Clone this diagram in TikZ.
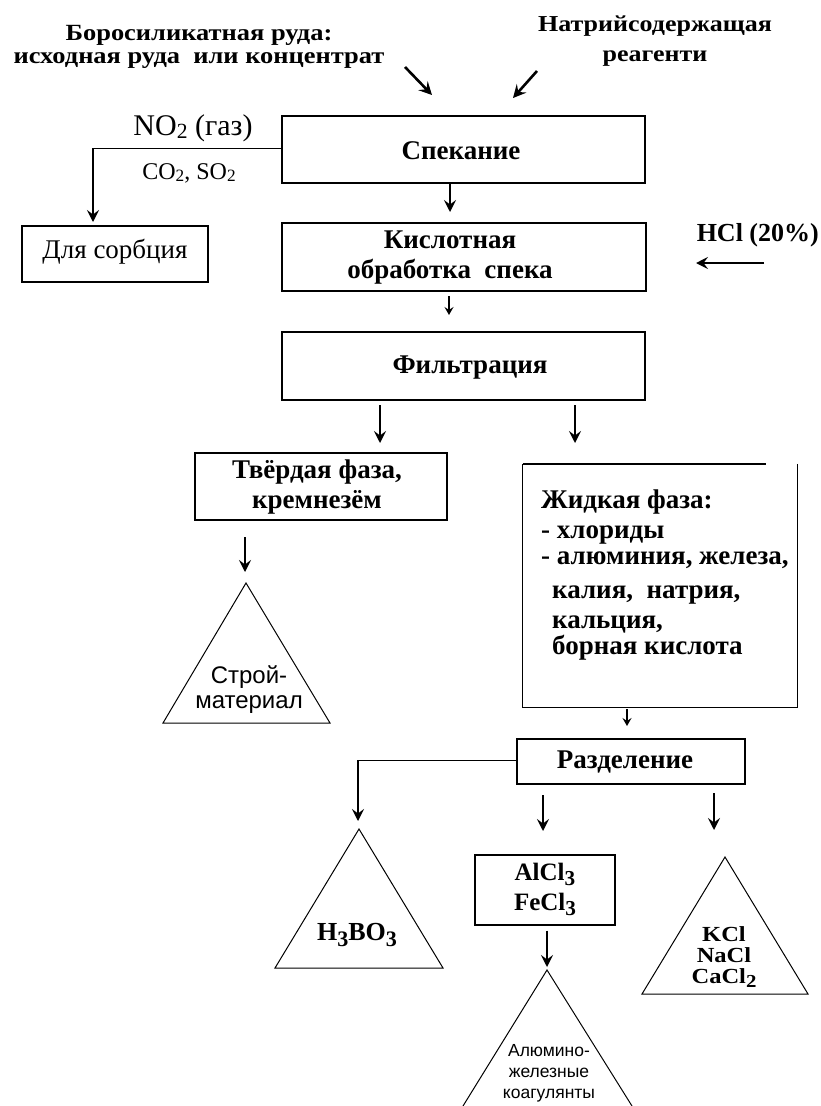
\documentclass[tikz,border=0pt]{standalone}
\usepackage{fontspec}
\usepackage{graphicx}
\setmainfont{Liberation Serif}
\newfontfamily\widef{Liberation Serif}[FakeStretch=1.14]
\newfontfamily\sansf{Liberation Sans}
\usetikzlibrary{arrows.meta}
\newcommand\lsub[1]{\raisebox{-0.2em}{\scalebox{0.85}{#1}}}
\newcommand\ssub[1]{\raisebox{-0.12em}{\scalebox{0.72}{#1}}}
\begin{document}
\begin{tikzpicture}[x=1pt,y=-1pt,
  box/.style={draw, line width=1.3pt, rectangle, inner sep=0pt},
  lbl/.style={font=\bfseries\fontsize{27}{30}\selectfont, align=center, inner sep=0pt},
  reg/.style={font=\fontsize{27}{30}\selectfont, align=center, inner sep=0pt},
  sans/.style={font=\sansf\fontsize{24}{25}\selectfont, align=center, inner sep=0pt},
  arr/.style={line width=1.8pt, -{Stealth[length=12pt,width=12pt,inset=4.5pt]}},
  darr/.style={line width=2.6pt, -{Stealth[length=13pt,width=13pt,inset=5pt]}},
  sarr/.style={line width=1.4pt, -{Stealth[length=8pt,width=9pt,inset=3pt]}},
  conn/.style={line width=1pt},
  tri/.style={draw, line width=1pt, line join=miter}
]
\useasboundingbox[fill=white] (0,0) rectangle (821,1106);

% titles
\node[lbl, font=\widef\bfseries\fontsize{23.2}{22.5}\selectfont] (t1) at (199,47) {Боросиликатная руда:\\исходная руда\ \ или концентрат};
\node[lbl, font=\widef\bfseries\fontsize{22.8}{30}\selectfont] (t2) at (655,41) {Натрийсодержащая\\реагенти};
\coordinate (a1s) at (405,67); \coordinate (a1e) at (432,95);
\coordinate (a2s) at (537,71); \coordinate (a2e) at (513,98);
\draw[darr] (a1s) -- (a1e);
\draw[darr] (a2s) -- (a2e);

% boxes
\node[box, minimum width=363, minimum height=67] (sp) at (463.5,149.5) {};
\node[lbl] at (461,151) {Спекание};
\node[box, minimum width=364, minimum height=68] (kis) at (464,257) {};
\node[lbl, font=\bfseries\fontsize{27}{30}\selectfont] at (450,258) {Кислотная\\обработка\ \ спека};
\node[box, minimum width=363, minimum height=68] (fil) at (463.5,366) {};
\node[lbl] at (470,368) {Фильтрация};
\node[box, minimum width=186, minimum height=56] (sorb) at (115,254) {};
\node[reg] at (115,252) {Для сорбция};

% gases
\node[reg, font=\fontsize{30}{30}\selectfont] (no2) at (193,128) {NO\ssub{2} (газ)};
\node[reg, font=\fontsize{24}{26}\selectfont] (co2) at (189,173) {CO\ssub{2}, SO\ssub{2}};
\coordinate (gasc) at (93,148);
\coordinate (gase) at (93,222);
\draw[conn] (sp.west |- gasc) -- (gasc);
\draw[arr] (gasc) -- (gase);

\coordinate (spa) at (450,212);
\draw[arr] (sp.south -| spa) -- (spa);

% HCl
\node[lbl, font=\bfseries\fontsize{26}{28}\selectfont, anchor=east] (hcl) at (819,235) {HCl (20\%)};
\coordinate (hs) at (764,263); \coordinate (he) at (696,263);
\draw[arr] (hs) -- (he);

\coordinate (k1) at (449,296); \coordinate (k2) at (449,315);
\draw[sarr] (k1) -- (k2);

% filtration outputs
\coordinate (f1s) at (380,405); \coordinate (f1e) at (380,443);
\coordinate (f2s) at (575,405); \coordinate (f2e) at (575,443);
\draw[arr] (f1s) -- (f1e);
\draw[arr] (f2s) -- (f2e);

\node[box, minimum width=252, minimum height=67] (tv) at (321,486.5) {};
\node[lbl, font=\bfseries\fontsize{27}{30}\selectfont] at (317,487) {Твёрдая фаза,\\кремнезём};

% liquid phase box
\node[minimum width=274, minimum height=243, inner sep=0pt] (zh) at (660,585.5) {};
\draw[line width=1.3pt] (zh.north east) -- (zh.south east) -- (zh.south west) -- (zh.north west);
\draw[line width=2.6pt] (zh.north west) -- ++(243,0) coordinate (zhtop);
\node[lbl, font=\bfseries\fontsize{27}{26}\selectfont, align=left, anchor=north west] (zht) at (541,490)
 {Жидкая фаза:\\[4pt]- хлориды\\- алюминия, железа,\\[8pt]\hspace*{11pt}калия,\ \ натрия,\\[4pt]\hspace*{11pt}кальция,\\\hspace*{11pt}борная кислота};

% solid -> triangle
\coordinate (s1) at (245,537); \coordinate (s2) at (245,572);
\draw[arr] (s1) -- (s2);
\coordinate (tr1a) at (246,583);
\draw[tri] (tr1a) -- (330,723) -- (163,723) -- cycle;
\node[sans] (tr1t) at (249,690) {Строй-\\материал};

\coordinate (z1) at (627,709); \coordinate (z2) at (627,726);
\draw[sarr] (z1) -- (z2);

% separation
\node[box, minimum width=228, minimum height=45] (raz) at (631,761.5) {};
\node[lbl] at (625,762) {Разделение};
\coordinate (rc) at (358,760);
\coordinate (re) at (358,821);
\draw[conn] (raz.west |- rc) -- (rc);
\draw[arr] (rc) -- (re);
\coordinate (r2s) at (543,795); \coordinate (r2e) at (543,831);
\coordinate (r3s) at (714,793); \coordinate (r3e) at (714,830);
\draw[arr] (r2s) -- (r2e);
\draw[arr] (r3s) -- (r3e);

% H3BO3 triangle
\coordinate (tr2a) at (359,829);
\draw[tri] (tr2a) -- (443,968) -- (275,968) -- cycle;
\node[lbl, font=\bfseries\fontsize{26}{28}\selectfont] (tr2t) at (357,935) {H\lsub{3}BO\lsub{3}};

% AlCl3 box
\node[box, minimum width=140, minimum height=70] (al) at (545,890) {};
\node[lbl, font=\bfseries\fontsize{25}{30}\selectfont] at (545,889) {AlCl\lsub{3}\\FeCl\lsub{3}};
\coordinate (a3e) at (547,967);
\draw[arr] (al.south -| a3e) ++(0,5) -- (a3e);

% coagulant triangle
\coordinate (tr3a) at (547,970);
\draw[tri] (463,1106) -- (tr3a) -- (632,1106);
\node[sans, font=\sansf\fontsize{17.5}{21}\selectfont] (tr3t) at (549,1073) {Алюмино-\\железные\\коагулянты};

% KCl triangle
\coordinate (tr4a) at (725,857);
\draw[tri] (tr4a) -- (808,994) -- (642,994) -- cycle;
\node[lbl, font=\widef\bfseries\fontsize{21.5}{21}\selectfont] (tr4t) at (724,957) {KCl\\NaCl\\CaCl\lsub{2}};
\end{tikzpicture}
\end{document}
